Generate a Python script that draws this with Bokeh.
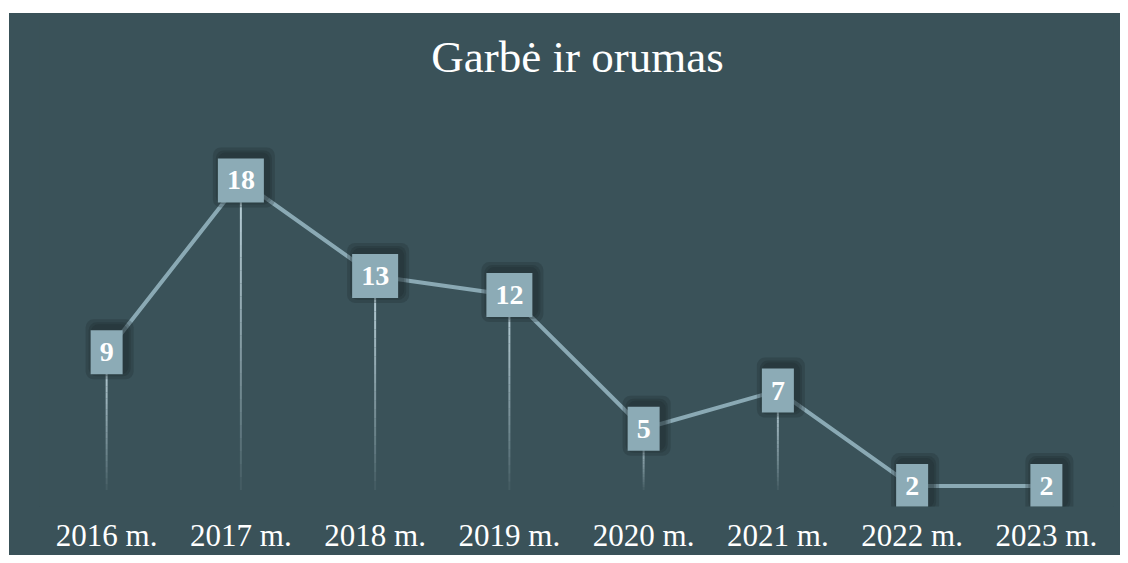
from bokeh.plotting import figure
from bokeh.models import ColumnDataSource, FactorRange, Range1d, Label
from bokeh.embed import file_html
from bokeh.resources import INLINE
from bokeh.core.properties import value

# ---- data ----
years = ["2016 m.", "2017 m.", "2018 m.", "2019 m.", "2020 m.", "2021 m.", "2022 m.", "2023 m."]
counts = [9, 18, 13, 12, 5, 7, 2, 2]
title_text = "Garbė ir orumas"

BG = "#3a5259"
LINE = "#8aa9b4"
BOX = "#8cabb6"
SERIF = "'Liberation Serif', serif"

p = figure(
    x_range=FactorRange(factors=years, range_padding=0),
    y_range=Range1d(0.93, 26.74),
    width=1111, height=542,
    output_backend="svg", toolbar_location=None,
    y_axis_location=None, x_axis_location="below",
    min_border_left=30, min_border_right=7, min_border_top=0, min_border_bottom=43,
    border_fill_color=BG, background_fill_color=BG,
)
p.outline_line_color = None
p.margin = (13, 0, 0, 9)
p.styles = {"background-color": BG}
p.grid.visible = False

# title drawn as a label inside the (tall) frame
p.add_layout(Label(
    x=538, y=450, x_units="screen", y_units="screen", text=title_text,
    text_font=SERIF, text_font_size="45px", text_color="white",
    text_align="center", text_baseline="alphabetic",
))

ax = p.xaxis[0]
ax.axis_line_color = None
ax.major_tick_line_color = None
ax.minor_tick_line_color = None
ax.major_label_text_font = SERIF
ax.major_label_text_font_size = "31px"
ax.major_label_text_color = "white"
ax.major_label_standoff = 5

src = ColumnDataSource(dict(x=years, y=counts, t=[str(c) for c in counts]))

# fading drop lines (gradient emulated with segments of decreasing alpha)
base = 1.8
N = 24
for i in range(N):
    f0, f1 = i / N, (i + 1) / N
    xs, y0s, y1s = [], [], []
    for yr, c in zip(years, counts):
        xs.append(yr)
        y0s.append(c - (c - base) * f0)
        y1s.append(c - (c - base) * f1)
    alpha = 1.0 * (1 - f0) ** 0.8
    p.segment(x0=xs, y0=y0s, x1=xs, y1=y1s, line_color="#bcd3db", line_width=2, line_alpha=alpha)

# main line
p.line("x", "y", source=src, line_color=LINE, line_width=4)

# shadows around the boxes
for pad in [(17, 21), (14, 18), (12, 16)]:
    p.text("x", "y", text="t", source=src, text_font=value(SERIF), text_font_size="28px",
           text_font_style="bold", text_align="center", text_baseline="middle",
           text_alpha=0, x_offset=3, y_offset=-3,
           background_fill_color="#1a282d", background_fill_alpha=0.25,
           padding=pad, border_radius=8)

# label boxes
p.text("x", "y", text="t", source=src, text_font=value(SERIF), text_font_size="28px",
       text_font_style="bold", text_color="white", text_align="center", text_baseline="middle",
       background_fill_color=BOX, padding=(9, 13))

open("out.html", "w").write(file_html(p, INLINE))
